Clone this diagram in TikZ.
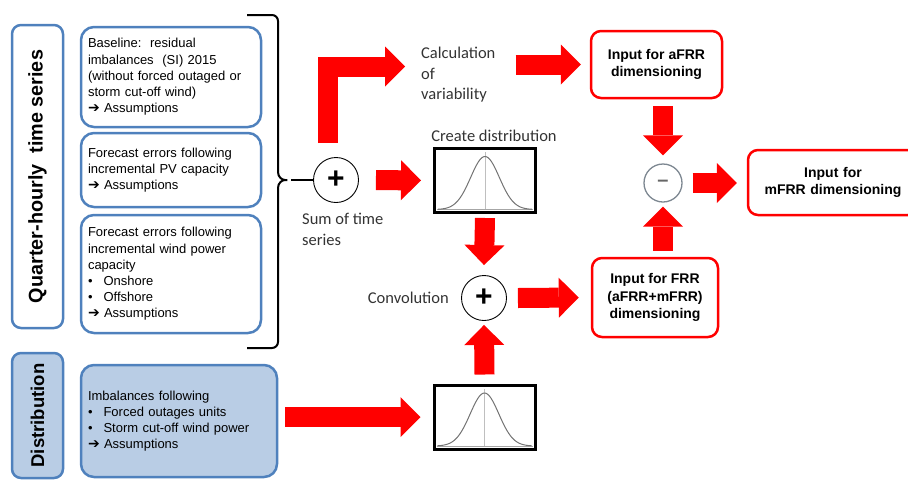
\documentclass[tikz,border=0pt]{standalone}
\usepackage{fontspec}
\setmainfont{Liberation Sans}
\newfontfamily\calfont{Carlito}
\newfontfamily\symfont{DejaVu Sans}
\usetikzlibrary{arrows.meta,calc}
\definecolor{boxblue}{RGB}{79,129,189}
\definecolor{fillblue}{RGB}{185,205,229}
\definecolor{ringgray}{RGB}{125,135,145}
\def\assume{{\symfont\bfseries\fontsize{14}{16}\selectfont ➔}\ Assumptions}
\def\bellcurve(#1){%
  \begin{scope}[shift={(#1.south)}]
    \draw[black!25, line width=0.8pt] (0,-4.5) -- (0,-62);
    \draw[black!35, line width=0.8pt] (-48,-4.5) -- (48,-4.5);
    \draw[black!55, line width=1pt] plot[domain=-47:47, samples=80] (\x, {-4.5-53*exp(-(\x*\x)/410)});
  \end{scope}}

\begin{document}
\begin{tikzpicture}[x=1pt, y=-1pt,
    sidebox/.style={draw=boxblue, line width=2.5pt, rounded corners=9pt, rotate=90,
      minimum height=51pt, font=\fontsize{18.5}{22}\selectfont\bfseries},
    tsbox/.style={draw=boxblue, line width=2.5pt, rounded corners=13pt, align=left,
      inner xsep=7pt, font=\fontsize{13}{16.2}\selectfont},
    rbox/.style={draw=red, line width=2.5pt, rounded corners=10pt, align=center,
      font=\fontsize{14}{17.5}\selectfont\bfseries},
    distbox/.style={draw=black, line width=3pt, minimum width=101pt, minimum height=64pt},
    opcircle/.style={circle, draw=black, line width=0.9pt, minimum size=45pt, inner sep=0pt,
      font=\fontsize{30}{30}\selectfont\bfseries},
    lbl/.style={font=\fontsize{16.5}{20.5}\selectfont\calfont, text=black!80, inner sep=0pt},
    fat/.style={draw=red, line width=20pt, line join=miter,
      -{Triangle[length=20pt,width=40pt,line width=0pt]}}]

  \clip (0,0) rectangle (908,480);
  \useasboundingbox (0,0) rectangle (908,480);

  %%%%% left column %%%%%
  \node[sidebox, minimum width=303pt, font=\fontsize{19.8}{22}\selectfont\bfseries] (qts) at (37.5,176.5)
    {Quarter-hourly\ \ time series\hspace{7pt}};
  \node[sidebox, minimum width=125pt, fill=fillblue] (dst) at (37.5,415.5) {Distribution};

  \node[tsbox, text width=166pt, minimum height=100pt] (base) at (171,77)
    {Baseline:\ \ residual\\ imbalances\ \ (SI) 2015\\ (without forced outaged or\\
     storm cut-off wind)\\ \assume};
  \node[tsbox, text width=166pt, minimum height=74pt] (pv) at (171,170)
    {Forecast errors following\\ incremental PV capacity\\ \assume};
  \node[tsbox, text width=166pt, minimum height=118pt] (wind) at (171,274)
    {Forecast errors following\\ incremental wind power\\ capacity\\
     \textbullet\hspace{11pt}Onshore\\ \textbullet\hspace{11pt}Offshore\\ \assume};
  \node[tsbox, text width=182pt, minimum height=112pt, fill=fillblue] (outage) at (179,421)
    {Imbalances following\\ \textbullet\hspace{11pt}Forced outages units\\
     \textbullet\hspace{11pt}Storm cut-off wind power\\ \assume};

  % brace
  \coordinate (bracetip) at (291,180);
  \draw[line width=2pt, rounded corners=6pt] (247,15) -- (278,15) -- (278,166)
    .. controls (278,177) and (282,180) .. (bracetip)
    .. controls (282,180) and (278,183) .. (278,194) -- (278,348) -- (247,348);

  %%%%% middle %%%%%
  \node[opcircle] (sum) at (336,180) {+};
  \node[lbl, anchor=west, align=left] (sumlbl) at (302,229.5) {Sum of time\\ series};
  \draw[line width=1.5pt] (bracetip) -- (sum.west);

  \node[lbl, anchor=west, align=left] (calc) at (421,75) {Calculation\\ of\\ variability};
  \node[lbl] (createlbl) at (494,136) {Create distribution};

  \node[distbox] (d1) at (485,180.5) {};
  \bellcurve(d1)
  \node[distbox] (d2) at (484.5,417) {};
  \bellcurve(d2)

  \node[opcircle] (conv) at (484,298) {+};
  \node[lbl, anchor=east] (convlbl) at (449,298) {Convolution};

  %%%%% right column %%%%%
  \node[rbox, minimum width=131pt, minimum height=67pt] (afrr) at (656.5,64.5)
    {Input for aFRR\\ dimensioning};
  \node[rbox, minimum width=126pt, minimum height=79pt] (frr) at (655,297.5)
    {Input for FRR\\ (aFRR+mFRR)\\ dimensioning};
  \node[circle, draw=ringgray, line width=1.3pt, minimum size=38pt, inner sep=0pt,
    text=black!60, font=\fontsize{20}{20}\selectfont\bfseries] (minus) at (663,183) {–};
  \node[rbox, minimum width=170pt, minimum height=65pt, text width=160pt] (mfrr) at (833,182.5)
    {Input for\\ mFRR dimensioning};

  %%%%% arrows %%%%%
  \draw[fat] ([xshift=-8.5pt,yshift=14pt]sum.north) |- ([xshift=-16pt,yshift=8.5pt]calc.west);
  \draw[fat] ([xshift=20pt]calc.east |- afrr.west) -- ([xshift=-9pt]afrr.west);
  \draw[fat] ([yshift=-7pt]afrr.south -| minus) -- ([yshift=8pt]minus.north);
  \draw[fat] ([yshift=6pt]frr.north -| minus) -- ([yshift=-4pt]minus.south);
  \draw[fat] ([xshift=10pt]minus.east) -- ([xshift=-10pt]mfrr.west |- minus);
  \draw[fat] ([xshift=17pt]sum.east) -- ([xshift=-12pt]d1.west);
  \draw[fat] ([yshift=-4pt]d1.south) -- ([yshift=10pt]conv.north);
  \draw[fat] ([yshift=9pt]d2.north) -- ([yshift=-4pt]conv.south);
  \draw[fat] ([xshift=11pt]conv.east) -- ([xshift=-12pt]frr.west);
  \draw[fat] ([xshift=7pt]outage.east |- d2.west) -- ([xshift=-12pt]d2.west);

\end{tikzpicture}
\end{document}
